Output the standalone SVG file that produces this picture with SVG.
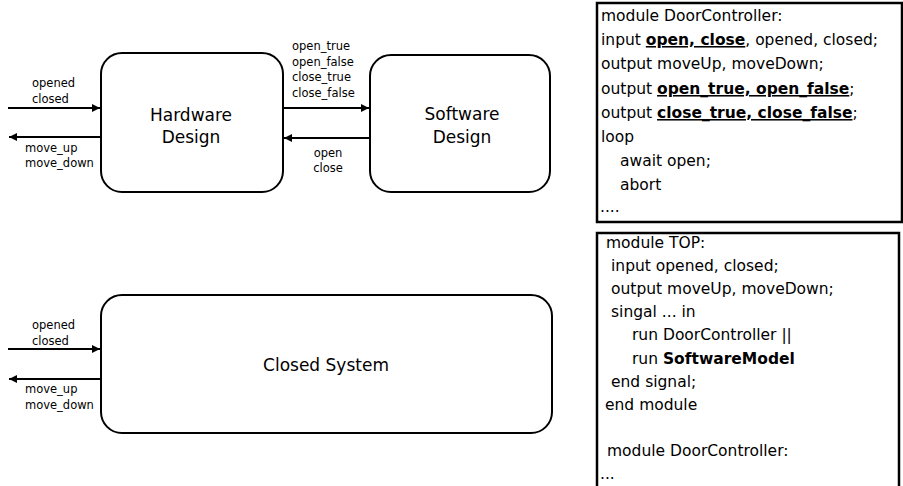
<svg xmlns="http://www.w3.org/2000/svg" width="903" height="486" viewBox="0 0 903 486">
<defs>
<marker id="ah" viewBox="0 0 10 10" refX="10" refY="5" markerWidth="10" markerHeight="8" markerUnits="userSpaceOnUse" orient="auto">
<path d="M0,0 L10,5 L0,10 z" fill="#000"/>
</marker>
<style>
.box{fill:#fff;stroke:#000;stroke-width:2}
.code{fill:#fff;stroke:#000;stroke-width:2.5}
.title{font-family:"DejaVu Sans",sans-serif;font-size:17px;fill:#000;text-anchor:middle}
.lbl{font-family:"DejaVu Sans",sans-serif;font-size:11.5px;fill:#000}
.ct{font-family:"DejaVu Sans",sans-serif;font-size:15.5px;fill:#000}
.b{font-weight:bold}
.u{font-weight:bold;text-decoration:underline}
.conn{stroke:#000;stroke-width:2;fill:none;marker-end:url(#ah)}
</style>
</defs>
<rect width="903" height="486" fill="#fff"/>

<g id="hardware">
<rect class="box" x="101" y="53" width="182" height="139" rx="21"/>
<text class="title" x="191" y="121">Hardware</text>
<text class="title" x="191" y="143">Design</text>
</g>

<g id="software">
<rect class="box" x="370" y="55" width="180" height="137" rx="21"/>
<text class="title" x="462" y="120">Software</text>
<text class="title" x="462" y="143">Design</text>
</g>

<g id="closed-system">
<rect class="box" x="101" y="295" width="451" height="138" rx="21"/>
<text class="title" x="326" y="371">Closed System</text>
</g>

<g id="connectors">
<line class="conn" x1="8" y1="108" x2="100" y2="108"/>
<line class="conn" x1="100" y1="137" x2="9" y2="137"/>
<line class="conn" x1="284" y1="108" x2="369" y2="108"/>
<line class="conn" x1="369" y1="138" x2="284" y2="138"/>
<line class="conn" x1="8" y1="349" x2="100" y2="349"/>
<line class="conn" x1="100" y1="379" x2="9" y2="379"/>
</g>

<g id="labels">
<text class="lbl" x="32" y="87">opened</text>
<text class="lbl" x="32" y="103">closed</text>
<text class="lbl" x="25" y="152">move_up</text>
<text class="lbl" x="25" y="167">move_down</text>
<text class="lbl" x="292" y="50">open_true</text>
<text class="lbl" x="292" y="66">open_false</text>
<text class="lbl" x="292" y="81">close_true</text>
<text class="lbl" x="292" y="97">close_false</text>
<text class="lbl" x="328" y="157" text-anchor="middle">open</text>
<text class="lbl" x="328" y="172" text-anchor="middle">close</text>
<text class="lbl" x="32" y="329">opened</text>
<text class="lbl" x="32" y="345">closed</text>
<text class="lbl" x="25" y="393">move_up</text>
<text class="lbl" x="25" y="409">move_down</text>
</g>

<g id="code-door-controller">
<rect class="code" x="597" y="3" width="305" height="219"/>
<text class="ct" x="601" y="21">module DoorController:</text>
<text class="ct" x="601" y="45">input <tspan class="u">open, close</tspan>, opened, closed;</text>
<text class="ct" x="601" y="69">output moveUp, moveDown;</text>
<text class="ct" x="601" y="94">output <tspan class="u">open_true, open_false</tspan>;</text>
<text class="ct" x="601" y="118">output <tspan class="u">close_true, close_false</tspan>;</text>
<text class="ct" x="601" y="142">loop</text>
<text class="ct" x="620" y="166">await open;</text>
<text class="ct" x="620" y="190">abort</text>
<text class="ct" x="600" y="212">....</text>
</g>

<g id="code-top">
<path class="code" d="M597,490 L597,233 L899,233 L899,490"/>
<text class="ct" x="606" y="248">module TOP:</text>
<text class="ct" x="611" y="271">input opened, closed;</text>
<text class="ct" x="611" y="294">output moveUp, moveDown;</text>
<text class="ct" x="611" y="317">singal ... in</text>
<text class="ct" x="632" y="340">run DoorController ||</text>
<text class="ct" x="632" y="364">run <tspan class="b">SoftwareModel</tspan></text>
<text class="ct" x="611" y="387">end signal;</text>
<text class="ct" x="605" y="410">end module</text>
<text class="ct" x="607" y="456">module DoorController:</text>
<text class="ct" x="600" y="479">...</text>
</g>
</svg>
